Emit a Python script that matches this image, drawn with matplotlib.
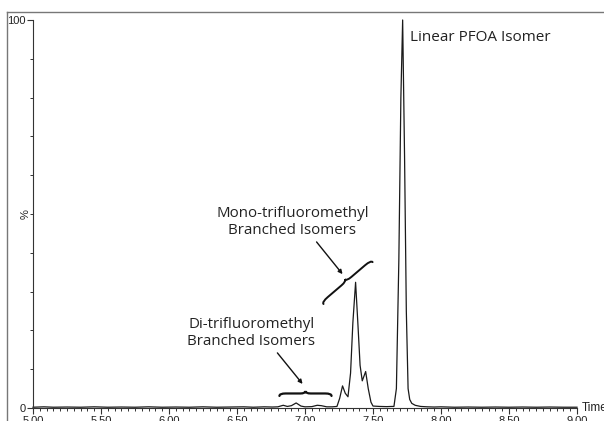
import numpy as np
import matplotlib
matplotlib.use('Agg')
from matplotlib import pyplot as plt
from matplotlib.path import Path
from matplotlib.patches import PathPatch
from matplotlib.lines import Line2D
from matplotlib.ticker import MultipleLocator, FixedLocator

# chromatogram trace (time in min, relative intensity %)
times = [5.00, 5.08, 5.15, 5.25, 5.35, 5.45, 5.55, 5.65, 5.75, 5.85, 5.95, 6.05,
         6.15, 6.25, 6.35, 6.45, 6.55, 6.62, 6.70, 6.76,
         6.80, 6.84, 6.87, 6.90, 6.935, 6.97, 7.00, 7.05, 7.09, 7.12, 7.16, 7.20,
         7.235, 7.255, 7.276, 7.296, 7.316, 7.335, 7.352, 7.372, 7.390, 7.405,
         7.421, 7.446, 7.465, 7.485, 7.50,
         7.55, 7.60, 7.64,
         7.654, 7.672, 7.690, 7.705, 7.718, 7.732, 7.745, 7.758, 7.770, 7.785,
         7.81, 7.85,
         7.90, 7.95, 8.00, 8.10, 8.20, 8.30, 8.40, 8.50, 8.60, 8.70, 8.80, 8.90, 9.00]
intensity = [0.2, 0.3, 0.2, 0.25, 0.2, 0.3, 0.2, 0.25, 0.2, 0.3, 0.2, 0.25,
             0.2, 0.3, 0.2, 0.25, 0.3, 0.2, 0.3, 0.25,
             0.3, 0.7, 0.4, 0.6, 1.3, 0.5, 0.3, 0.35, 0.7, 0.6, 0.3, 0.3,
             0.4, 2.5, 5.7, 3.8, 2.9, 9.0, 22.0, 32.4, 21.0, 11.0,
             7.0, 9.4, 5.0, 1.5, 0.5,
             0.4, 0.35, 0.4,
             0.4, 5.0, 38.0, 80.0, 100.0, 65.0, 25.0, 5.0, 2.2, 1.2,
             0.7, 0.4,
             0.3, 0.25, 0.3, 0.2, 0.25, 0.2, 0.25, 0.2, 0.25, 0.2, 0.25, 0.2, 0.2]

major_x = [5.00, 5.50, 6.00, 6.50, 7.00, 7.50, 8.00, 8.50, 9.00]
x_labels = ['5.00', '5.50', '6.00', '6.50', '7.00', '7.50', '8.00', '8.50', '9.00']

txt_font = ['Open Sans', 'DejaVu Sans']
tick_font = ['Liberation Sans', 'DejaVu Sans']


def brace(ax, fig, p1, p2, h, lw=1.6):
    # curly brace between two data points, tip on the left-hand side (display space)
    a = ax.transData.transform(p1)
    b = ax.transData.transform(p2)
    d = b - a
    L = np.hypot(*d)
    u = d / L
    n = np.array([-u[1], u[0]])
    m = (a + b) / 2
    pts = [a,
           a + n * h * 0.5, a + u * 0.12 * L + n * h * 0.5,
           m - u * 0.1 * L + n * h * 0.5,
           m + n * h * 0.5, m + n * h,
           m + n * h * 0.5, m + u * 0.1 * L + n * h * 0.5,
           b - u * 0.12 * L + n * h * 0.5,
           b + n * h * 0.5, b]
    codes = [Path.MOVETO, Path.CURVE3, Path.CURVE3, Path.LINETO,
             Path.CURVE3, Path.CURVE3, Path.CURVE3, Path.CURVE3,
             Path.LINETO, Path.CURVE3, Path.CURVE3]
    pts = fig.transFigure.inverted().transform(np.array(pts))
    fig.patches.append(PathPatch(Path(pts, codes), transform=fig.transFigure,
                                 fill=False, lw=lw, color='#111111',
                                 capstyle='round', figure=fig))


if __name__ == '__main__':
    fig = plt.figure(figsize=(6.04, 4.21), dpi=100)
    ax = fig.add_axes([33 / 604, 13 / 421, (577 - 33) / 604, (408 - 20) / 421])

    ax.plot(times, intensity, color='#1a1a1a', lw=0.9, clip_on=False)
    ax.set_xlim(5, 9)
    ax.set_ylim(0, 100)

    for s in ['top', 'right']:
        ax.spines[s].set_visible(False)
    for s in ['left', 'bottom']:
        ax.spines[s].set_linewidth(0.8)
        ax.spines[s].set_color('#333333')

    ax.xaxis.set_major_locator(FixedLocator(major_x))
    ax.set_xticklabels(x_labels)
    ax.xaxis.set_minor_locator(MultipleLocator(0.05))
    ax.yaxis.set_major_locator(FixedLocator([0, 100]))
    ax.yaxis.set_minor_locator(MultipleLocator(10))
    ax.tick_params(which='major', length=4, width=0.8, color='#333333', pad=1.5,
                   labelsize=8, labelcolor='#222222')
    ax.tick_params(which='minor', length=2.5, width=0.7, color='#333333')
    for lab in ax.get_xticklabels() + ax.get_yticklabels():
        lab.set_family(tick_font)

    ax.text(-0.014, 0.5, '%', transform=ax.transAxes, rotation=90, ha='center',
            va='center', fontsize=8, family=tick_font, color='#222222')
    ax.text(1.009, 0.0, 'Time', transform=ax.transAxes, ha='left', va='center',
            fontsize=8.5, family=tick_font, color='#222222')

    # annotations
    ax.text(7.77, 95.4, 'Linear PFOA Isomer', ha='left', va='center',
            fontsize=11, family=txt_font, color='#222222')
    ax.text(6.908, 47.9, 'Mono-trifluoromethyl\nBranched Isomers', ha='center',
            va='center', fontsize=10.9, family=txt_font, color='#222222',
            linespacing=1.15)
    ax.text(6.606, 19.3, 'Di-trifluoromethyl\nBranched Isomers', ha='center',
            va='center', fontsize=10.9, family=txt_font, color='#222222',
            linespacing=1.15)

    arrow = dict(arrowstyle='-|>', lw=1.0, color='#111111', mutation_scale=6,
                 shrinkA=0, shrinkB=0)
    ax.annotate('', xy=(7.276, 34.5), xytext=(7.085, 42.8), arrowprops=arrow,
                annotation_clip=False)
    ax.annotate('', xy=(6.982, 6.2), xytext=(6.797, 14.2), arrowprops=arrow,
                annotation_clip=False)

    brace(ax, fig, (6.812, 3.1), (7.195, 3.1), 5)
    brace(ax, fig, (7.136, 26.8), (7.497, 37.6), 5, lw=1.4)

    # outer frame, clipped by the image edge
    x0, y0 = 7 / 604, 1 - 12 / 421
    fig.lines.append(Line2D([x0, 1.01], [y0, y0], transform=fig.transFigure,
                            color='#777777', lw=1.0))
    fig.lines.append(Line2D([x0, x0], [y0, -0.01], transform=fig.transFigure,
                            color='#777777', lw=1.0))

    fig.savefig('out.png', dpi=100)
